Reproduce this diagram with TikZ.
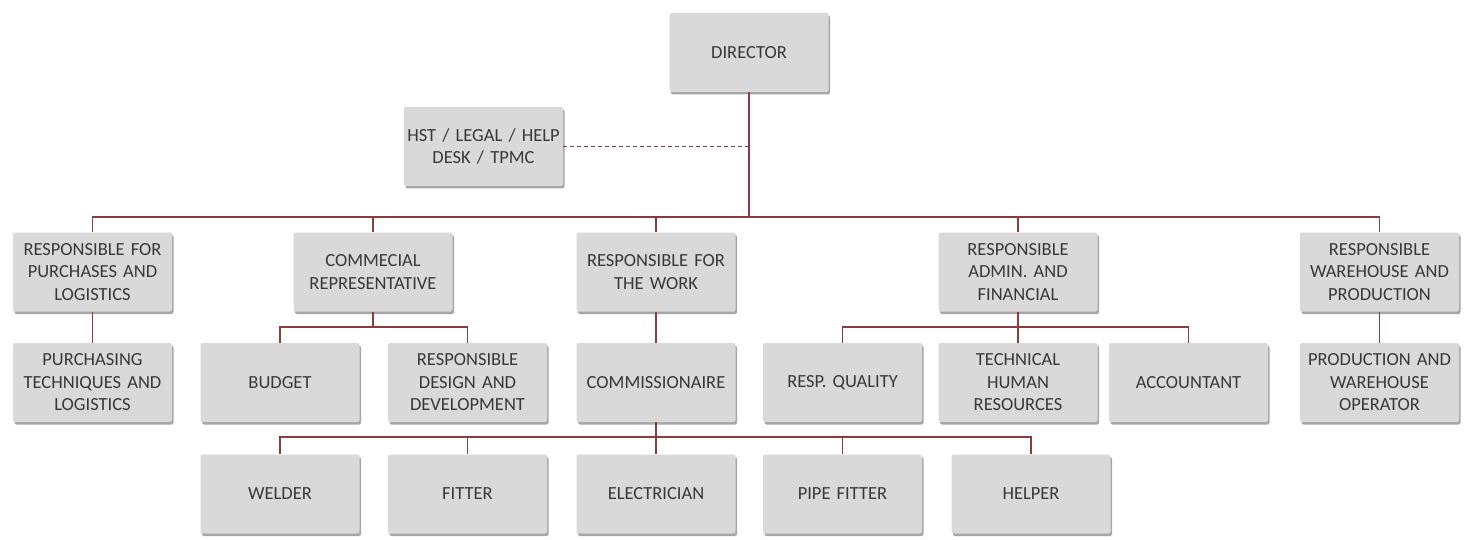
\documentclass[tikz,border=0pt]{standalone}
\usepackage{fontspec}
\setmainfont{Carlito}
\usetikzlibrary{shadows}
\definecolor{conn}{RGB}{140,60,60}
\definecolor{boxfill}{RGB}{217,217,217}
\definecolor{txt}{RGB}{56,56,56}
\tikzset{
  box/.style={draw=none, fill=boxfill, rounded corners=2pt, minimum width=159pt, minimum height=79pt,
    text width=158pt, align=center, font=\fontsize{18.5}{22.5}\selectfont, text=txt, inner sep=0pt,
    drop shadow={shadow xshift=1.5pt, shadow yshift=-2.5pt, fill=black, opacity=0.35}},
  link/.style={draw=conn, line width=1.2pt},
}
\begin{document}
\begin{tikzpicture}[x=1pt,y=-1pt]
\useasboundingbox (0,0) rectangle (1471,540);
% level 0
\node[box] (dir) at (749,52.5) {DIRECTOR};
\node[box] (hst) at (483.5,146.5) {HST / LEGAL / HELP\\DESK / TPMC};
% level 1
\node[box] (pur) at (92.5,272) {RESPONSIBLE FOR\\PURCHASES AND\\LOGISTICS};
\node[box] (com) at (373,272) {COMMECIAL\\REPRESENTATIVE};
\node[box] (work) at (656,272) {RESPONSIBLE FOR\\THE WORK};
\node[box] (adm) at (1018,272) {RESPONSIBLE\\ADMIN. AND\\FINANCIAL};
\node[box] (wh) at (1379.5,272) {RESPONSIBLE\\WAREHOUSE AND\\PRODUCTION};
% level 2
\node[box] (pt) at (92.5,382.5) {PURCHASING\\TECHNIQUES AND\\LOGISTICS};
\node[box] (bud) at (280,382.5) {BUDGET};
\node[box] (rdd) at (467.5,382.5) {RESPONSIBLE\\DESIGN AND\\DEVELOPMENT};
\node[box] (comm) at (656,382.5) {COMMISSIONAIRE};
\node[box] (qual) at (842.5,382.5) {RESP. QUALITY};
\node[box] (tech) at (1018,382.5) {TECHNICAL\\HUMAN\\RESOURCES};
\node[box] (acc) at (1188.5,382.5) {ACCOUNTANT};
\node[box] (po) at (1379.5,382.5) {PRODUCTION AND\\WAREHOUSE\\OPERATOR};
% level 3
\node[box] (weld) at (280,494) {WELDER};
\node[box] (fit) at (467.5,494) {FITTER};
\node[box] (elec) at (656,494) {ELECTRICIAN};
\node[box] (pipe) at (842.5,494) {PIPE FITTER};
\node[box] (help) at (1031,494) {HELPER};
% connectors
\coordinate (b1) at (749,217);
\coordinate (b2) at (373,327);
\coordinate (b3) at (1018,327);
\coordinate (b4) at (656,437);
\draw[link] (dir.south) -- (b1);
\draw[link, dashed, dash pattern=on 4pt off 3pt] (hst.east) -- (hst.east -| b1);
\draw[link] (pur.north) |- (b1);
\draw[link] (wh.north) |- (b1);
\draw[link] (com.north) -- (com.north |- b1);
\draw[link] (work.north) -- (work.north |- b1);
\draw[link] (adm.north) -- (adm.north |- b1);
\draw[link] (pur.south) -- (pt.north);
\draw[link] (wh.south) -- (po.north);
\draw[link] (com.south) -- (b2);
\draw[link] (bud.north) |- (b2);
\draw[link] (rdd.north) |- (b2);
\draw[link] (work.south) -- (comm.north);
\draw[link] (adm.south) -- (tech.north);
\draw[link] (qual.north) |- (b3);
\draw[link] (acc.north) |- (b3);
\draw[link] (comm.south) -- (elec.north);
\draw[link] (weld.north) |- (b4);
\draw[link] (help.north) |- (b4);
\draw[link] (fit.north) -- (fit.north |- b4);
\draw[link] (pipe.north) -- (pipe.north |- b4);
\end{tikzpicture}
\end{document}
